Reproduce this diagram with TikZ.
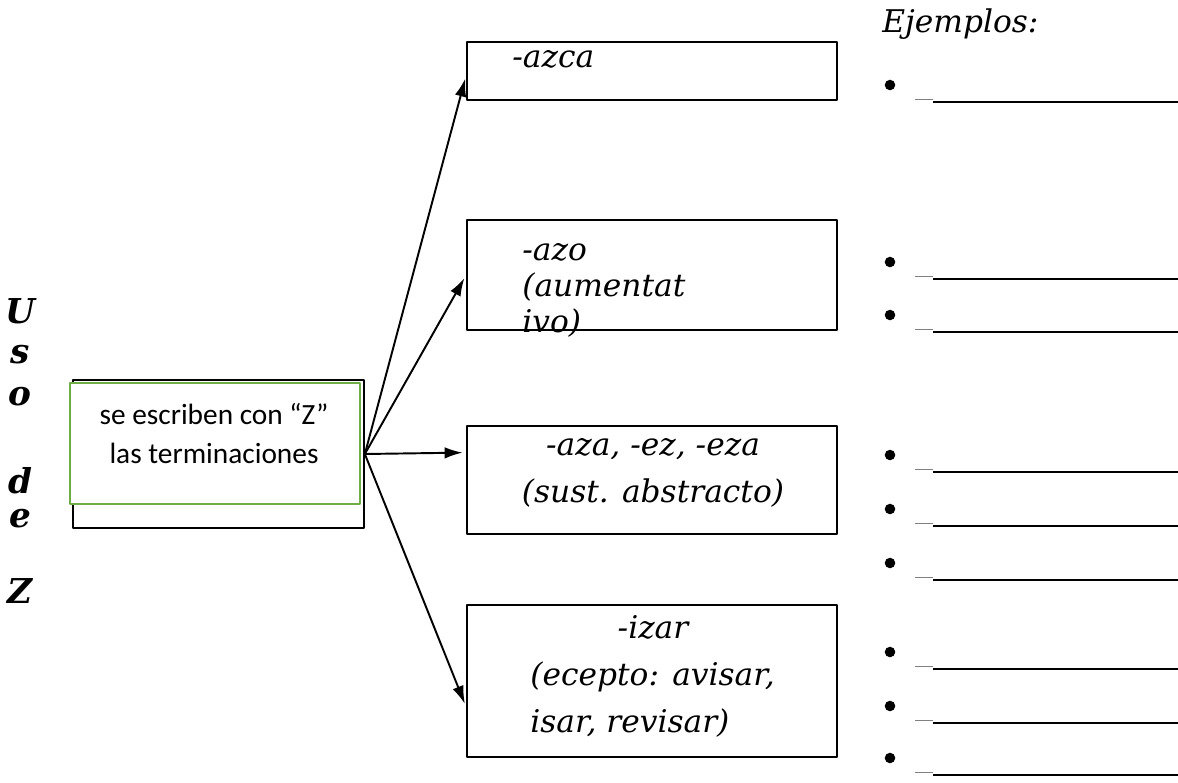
\documentclass[tikz,border=0pt]{standalone}
\usepackage{fontspec}
\setmainfont{DejaVu Serif}
\newfontfamily\calibri{Carlito}
\usetikzlibrary{arrows.meta,calc}
\definecolor{verde}{RGB}{112,173,71}

\begin{document}
\begin{tikzpicture}[x=0.02cm,y=-0.02cm,>={Latex[length=3.6mm,width=2.3mm]},line join=round,
	caja/.style={draw,line width=1pt,inner sep=0pt,minimum width=7.4cm},
	etiq/.style={anchor=base west,inner sep=0pt,font=\fontsize{17.8}{20}\selectfont\itshape},
	letra/.style={anchor=base,inner sep=0pt,font=\fontsize{19.5}{22}\selectfont\bfseries\itshape},
	flecha/.style={->,line width=1.1pt,shorten >=2pt}]
	
	\useasboundingbox (0,0) rectangle (1178,782);
	
	\foreach \l/\y in {U/323,s/363,o/405,d/493,e/527,Z/603}
		\node[letra] (letra\l) at (20,\y) {\l}; % Uso de Z
	
	% caja central
	\node[draw,line width=1pt,minimum width=5.82cm,minimum height=2.96cm,inner sep=0pt] (hub) at (218.5,454) {};
	\node[draw=verde,fill=white,line width=1pt,minimum width=5.8cm,minimum height=2.42cm,inner sep=0pt] (hubverde) at (215,443.5) {};
	\node[font=\calibri\fontsize{16.7}{20}\selectfont,anchor=base,inner sep=0pt] (hubtxt1) at (214,424) {se escriben con “Z”};
	\node[font=\calibri\fontsize{16.7}{20}\selectfont,anchor=base,inner sep=0pt] (hubtxt2) at (214,463) {las terminaciones};
	
	% terminaciones
	\node[caja,minimum height=1.16cm] (azca) at (652,71) {};
	\node[caja,minimum height=2.2cm] (azo) at (652,275) {};
	\node[caja,minimum height=2.16cm] (aza) at (652,480) {};
	\node[caja,minimum height=3.04cm] (izar) at (652,681) {};
	
	\node[etiq] (azcatxt) at (512,67) {-azca};
	\node[etiq] (azotxt1) at (522,260) {-azo};
	\node[etiq] (azotxt2) at (522,296) {(aumentat};
	\node[etiq] (azotxt3) at (522,332) {ivo)};
	\node[etiq,anchor=base] (azatxt1) at (653,455) {-aza, -ez, -eza};
	\node[etiq,anchor=base] (azatxt2) at (653,502) {(sust. abstracto)};
	\node[etiq,anchor=base] (izartxt1) at (653,638) {-izar};
	\node[etiq] (izartxt2) at (530,685) {(ecepto: avisar,};
	\node[etiq] (izartxt3) at (530,732) {isar, revisar)};
	
	\draw[flecha] (hub.east) -- ($(azca.north west)!0.57!(azca.south west)$);
	\draw[flecha] (hub.east) -- (azo.west);
	\draw[flecha] (hub.east) -- ($(aza.north west)!0.25!(aza.south west)$);
	\draw[flecha] (hub.east) -- ($(izar.north west)!0.67!(izar.south west)$);
	
	% ejemplos
	\node[etiq] (ejemplos) at (882,32) {Ejemplos:};
	\foreach \y in {85,262,315,455,509,563,652,706,758}{
		\fill (890,\y) circle (3pt);
		\draw[gray,line width=1pt] (915,\y+14.5) -- (933,\y+14.5);
		\draw[line width=1.2pt] (933,\y+17) -- (1178,\y+17);
	}
\end{tikzpicture}
\end{document}
